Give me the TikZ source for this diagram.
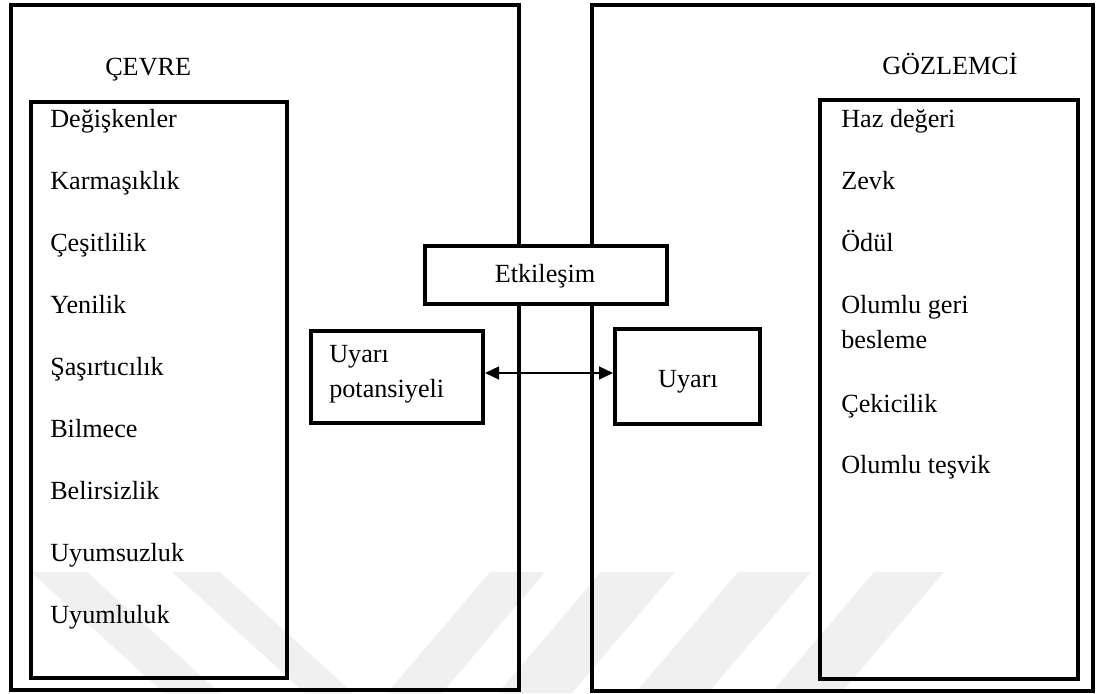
\documentclass[tikz,border=0pt]{standalone}
\usepackage{fontspec}
\setmainfont{Liberation Serif}
\usetikzlibrary{arrows.meta}
\newdimen\pxu \pxu=0.75pt
\begin{document}
\begin{tikzpicture}[x=0.75pt,y=-0.75pt,
  font=\rmfamily\fontsize{19.65pt}{26.25pt}\selectfont,
  frame/.style={draw, line width=3pt},
  box/.style={draw, line width=3pt, fill=white, inner sep=0pt},
  lbl/.style={inner sep=0pt, anchor=base west, align=left},
  clbl/.style={inner sep=0pt, anchor=base},
  arr/.style={line width=1.1pt, {Triangle[length=10.5pt,width=9.75pt]}-{Triangle[length=10.5pt,width=9.75pt]}},
  wm/.style={fill=black!6, draw=none}]
\useasboundingbox (0,0) rectangle (1096,693);
% watermark
\fill[wm] (31,572) -- (87,572) -- (220,693) -- (164,693) -- cycle;
\fill[wm] (172,572) -- (220,572) -- (353,693) -- (305,693) -- cycle;
\fill[wm] (490,572) -- (545,572) -- (442,693) -- (387,693) -- cycle;
\fill[wm] (601,572) -- (675,572) -- (572,693) -- (498,693) -- cycle;
\fill[wm] (738,572) -- (811,572) -- (708,693) -- (635,693) -- cycle;
\fill[wm] (874,572) -- (944,572) -- (841,693) -- (771,693) -- cycle;
% frames
\draw[frame] (11,4.7) rectangle (519,690);
\draw[frame] (592,4.7) rectangle (1093,690.5);
\draw[frame] (30.5,101.5) rectangle (286.5,678);
\draw[frame] (820,100) rectangle (1077.5,679);
% boxes
\node[box, minimum width=242\pxu, minimum height=57.5\pxu] (etk) at (546,275.2) {};
\node[box, minimum width=172.5\pxu, minimum height=92\pxu] (uypot) at (396.8,376.5) {};
\node[box, minimum width=145\pxu, minimum height=95\pxu] (uy) at (687.5,376.5) {};
\draw[arr] ([yshift=3.5\pxu]uypot.east) -- ([yshift=3.5\pxu]uy.west);
% texts
\node[clbl] (tetk) at (545,282) {Etkileşim};
\node[lbl] (tuypot) at (329,397) {Uyarı\\potansiyeli};
\node[clbl] (tuy) at (688,387) {Uyarı};
\node[lbl] (cevre) at (105,75) {ÇEVRE};
\node[lbl] (gozlemci) at (882,74.5) {GÖZLEMCİ};
% left list
\node[lbl] (l1) at (50,127) {Değişkenler};
\node[lbl] (l2) at (50,189) {Karmaşıklık};
\node[lbl] (l3) at (50,251) {Çeşitlilik};
\node[lbl] (l4) at (50,313) {Yenilik};
\node[lbl] (l5) at (50,375) {Şaşırtıcılık};
\node[lbl] (l6) at (50,437) {Bilmece};
\node[lbl] (l7) at (50,499) {Belirsizlik};
\node[lbl] (l8) at (50,561) {Uyumsuzluk};
\node[lbl] (l9) at (50,623) {Uyumluluk};
% right list
\node[lbl] (r1) at (841,127) {Haz değeri};
\node[lbl] (r2) at (841,189) {Zevk};
\node[lbl] (r3) at (841,251) {Ödül};
\node[lbl] (r4) at (841,348) {Olumlu geri\\besleme};
\node[lbl] (r5) at (841,412) {Çekicilik};
\node[lbl] (r6) at (841,473) {Olumlu teşvik};
\end{tikzpicture}
\end{document}
